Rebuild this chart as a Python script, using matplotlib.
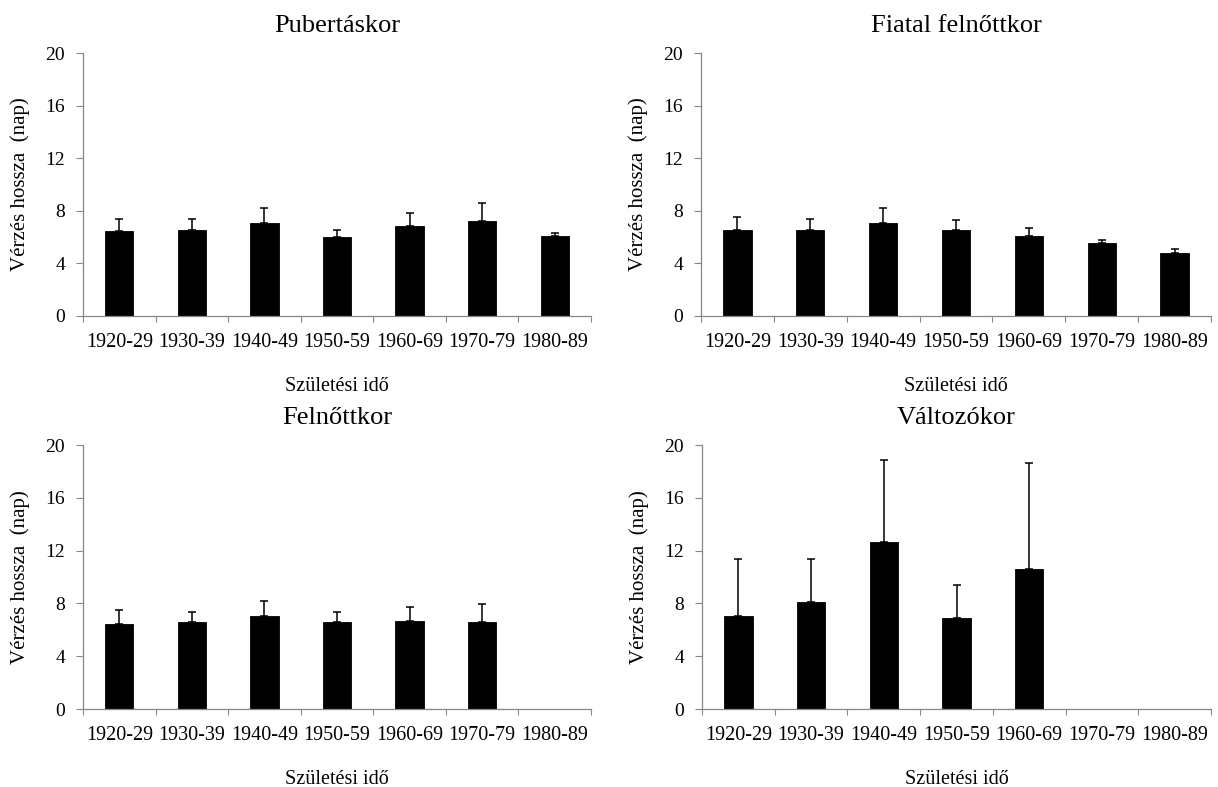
import numpy as np
import matplotlib
matplotlib.use("Agg")
import matplotlib.pyplot as plt

plt.rcParams['font.family'] = ['Liberation Serif', 'DejaVu Serif']

categories = ['1920-29', '1930-39', '1940-49', '1950-59', '1960-69', '1970-79', '1980-89']

titles = ['Pubertáskor', 'Fiatal felnőttkor', 'Felnőttkor', 'Változókor']

pub_mean = [6.44, 6.57, 7.05, 5.98, 6.84, 7.25, 6.06]
pub_err = [0.96, 0.83, 1.13, 0.56, 0.96, 1.34, 0.28]

fiatal_mean = [6.57, 6.57, 7.05, 6.57, 6.06, 5.58, 4.80]
fiatal_err = [0.93, 0.83, 1.13, 0.73, 0.66, 0.20, 0.30]

felnott_mean = [6.47, 6.57, 7.03, 6.57, 6.65, 6.57, np.nan]
felnott_err = [1.04, 0.81, 1.14, 0.81, 1.06, 1.42, np.nan]

valtozo_mean = [7.03, 8.09, 12.67, 6.93, 10.64, np.nan, np.nan]
valtozo_err = [4.37, 3.31, 6.19, 2.43, 8.02, np.nan, np.nan]

y_ticks = [0, 4, 8, 12, 16, 20]
ylabel = 'Vérzés hossza  (nap)'
xlabel = 'Születési idő'

W, H = 1218, 787
fig = plt.figure(figsize=(W / 100, H / 100), dpi=100)

# axes boxes in pixels: (left, top, right, bottom)
boxes = [(83, 53, 591, 316), (701, 53, 1211, 316),
         (83, 445, 591, 709), (702, 445, 1211, 709)]
means = [pub_mean, fiatal_mean, felnott_mean, valtozo_mean]
errs = [pub_err, fiatal_err, felnott_err, valtozo_err]

gray = '#878787'
for (l, t, r, b), title, m, e in zip(boxes, titles, means, errs):
    ax = fig.add_axes([l / W, 1 - b / H, (r - l) / W, (b - t) / H])
    x = np.arange(len(categories))
    m = np.array(m, dtype=float)
    e = np.array(e, dtype=float)
    ok = ~np.isnan(m)
    ax.bar(x[ok], m[ok], width=0.39, color='black', edgecolor='black', linewidth=0.6, zorder=2)
    ax.errorbar(x[ok], m[ok], yerr=[np.zeros(ok.sum()), e[ok]], fmt='none',
                ecolor='black', elinewidth=1.1, capsize=2.8, capthick=1.1, zorder=3)
    ax.set_xlim(-0.5, len(categories) - 0.5)
    ax.set_ylim(0, 20)
    ax.set_yticks(y_ticks)
    ax.set_xticks(x)
    ax.set_xticklabels(categories, fontsize=14.5)
    ax.set_xticks(np.arange(len(categories) + 1) - 0.5, minor=True)
    ax.tick_params(axis='x', which='major', length=0, pad=12.5)
    ax.tick_params(axis='x', which='minor', length=4.5, width=0.8, color=gray, direction='out')
    ax.tick_params(axis='y', which='major', length=5, width=0.8, color=gray,
                   direction='out', pad=8, labelsize=14)
    for s in ['top', 'right']:
        ax.spines[s].set_visible(False)
    for s in ['left', 'bottom']:
        ax.spines[s].set_color(gray)
        ax.spines[s].set_linewidth(0.9)
    ax.set_title(title, fontsize=19, pad=15)
    ax.set_ylabel(ylabel, fontsize=15)
    ax.set_xlabel(xlabel, fontsize=14.5)
    ax.yaxis.set_label_coords(-53 / (r - l), 0.5)
    ax.xaxis.set_label_coords(0.5, -61 / (b - t))

fig.savefig('out.png', dpi=100)
